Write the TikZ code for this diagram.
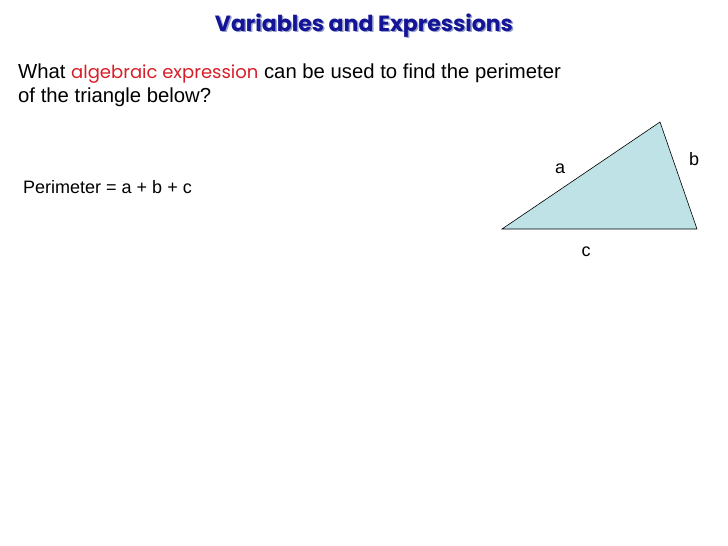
\documentclass[tikz,border=0pt]{standalone}
\usepackage{fontspec}
\setmainfont{Liberation Sans}
\newfontfamily\comicfont{Poppins}
\usepackage{tikz}
\usetikzlibrary{positioning}
\usepackage{xcolor}
\definecolor{titleblue}{RGB}{20,20,150}
\definecolor{shadowgrey}{RGB}{150,160,200}
\definecolor{keyred}{RGB}{215,30,40}
\definecolor{trifill}{RGB}{190,226,229}

% title text with a soft drop shadow
\newcommand{\shadowtext}[1]{\makebox[0pt][l]{\kern1.5pt\raisebox{-1.5pt}{\color{shadowgrey}#1}}{\color{titleblue}#1}}

\begin{document}
\begin{tikzpicture}[
    x=1pt, y=-1pt,
    heading/.style={font=\comicfont\bfseries\fontsize{22}{26}\selectfont, inner sep=0pt},
    bodytext/.style={font=\fontsize{20.3}{24}\selectfont, align=left, anchor=north west, inner sep=0pt},
    sidelabel/.style={font=\fontsize{18}{21}\selectfont, inner sep=0pt}
]
\useasboundingbox (0,0) rectangle (728,546);

% Title
\node[heading] (title) at (364, 26) {\shadowtext{Variables and Expressions}};

% Question
\node[bodytext] (question) at (18, 64) {What {\comicfont\fontsize{18}{24}\selectfont\color{keyred}algebraic expression} can be used to find the perimeter\\of the triangle below?};

% Answer
\node[sidelabel, anchor=west] (perimeter) at (23, 187) {Perimeter = a + b + c};

% Triangle
\coordinate (left) at (502, 229);
\coordinate (top) at (660, 122);
\coordinate (right) at (697, 229);
\filldraw[fill=trifill, draw=black, semithick] (left) -- (top) -- (right) -- cycle;

% Side labels
\node[sidelabel] (sidea) at (560, 169) {a};
\node[sidelabel] (sideb) at (694, 159) {b};
\node[sidelabel] (sidec) at (586, 252) {c};

\end{tikzpicture}
\end{document}
